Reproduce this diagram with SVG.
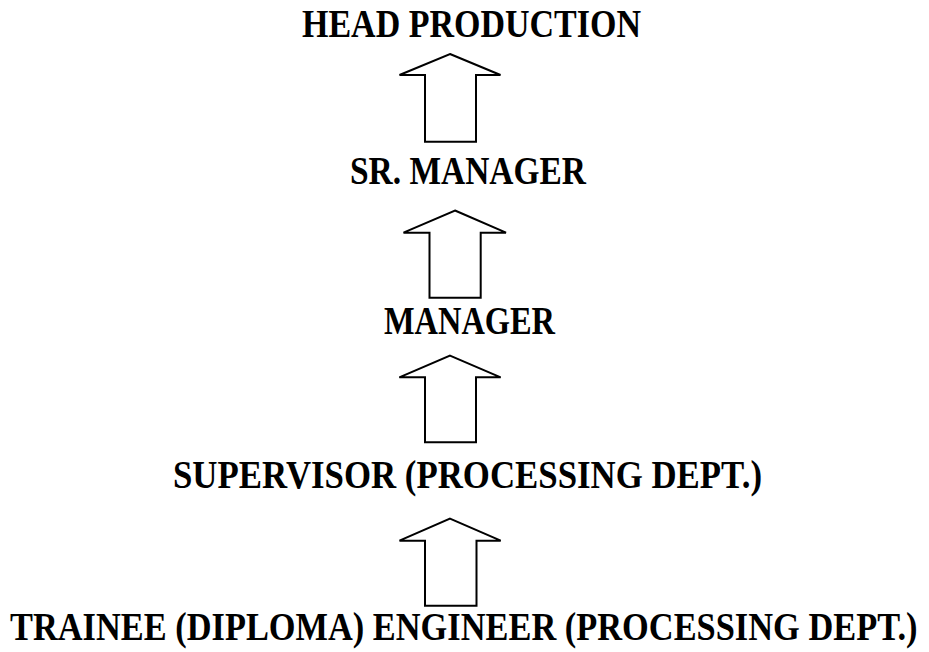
<svg xmlns="http://www.w3.org/2000/svg" width="929" height="652" viewBox="0 0 929 652">
<style>
.t{font-family:"Liberation Serif","DejaVu Serif",serif;font-weight:bold;font-size:40px;fill:#000}
.a{fill:#fff;stroke:#000;stroke-width:2;stroke-linejoin:miter}
</style>
<rect width="929" height="652" fill="#fff"/>
<g id="head"><text class="t" x="302" y="36.5" textLength="339" lengthAdjust="spacingAndGlyphs">HEAD PRODUCTION</text></g>
<g id="srmanager"><text class="t" x="350" y="184" textLength="236" lengthAdjust="spacingAndGlyphs">SR. MANAGER</text></g>
<g id="manager"><text class="t" x="384" y="334" textLength="171" lengthAdjust="spacingAndGlyphs">MANAGER</text></g>
<g id="supervisor"><text class="t" x="173" y="488" textLength="589" lengthAdjust="spacingAndGlyphs">SUPERVISOR (PROCESSING DEPT.)</text></g>
<g id="trainee"><text class="t" transform="translate(10,640) scale(0.857,1)" x="0" y="0" textLength="1059" lengthAdjust="spacingAndGlyphs">TRAINEE (DIPLOMA) ENGINEER (PROCESSING DEPT.)</text></g>
<g id="connectors">
<polygon class="a" points="450,54 500.5,75 476,75 476,141.7 425,141.7 425,75 399.5,75"/>
<polygon class="a" points="455,210.5 506,232.7 480.7,232.7 480.7,297.7 429.5,297.7 429.5,232.7 403.5,232.7"/>
<polygon class="a" points="450,355.7 500.7,377.3 476,377.3 476,442.3 425,442.3 425,377.3 399.3,377.3"/>
<polygon class="a" points="450,518.7 500.7,540.7 476.5,540.7 476.5,605.7 425,605.7 425,540.7 399.5,540.7"/>
</g>
</svg>
